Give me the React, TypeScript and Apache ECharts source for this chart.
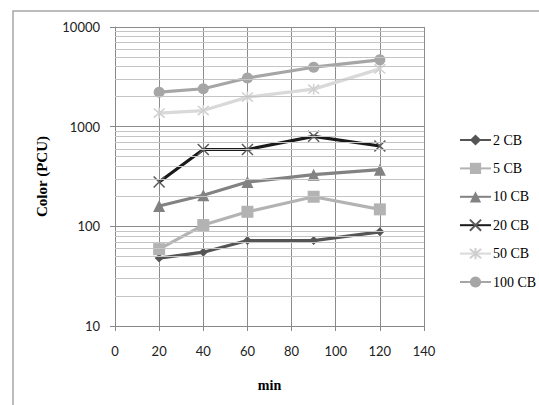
import React, { useEffect, useRef } from "react";
import * as echarts from "echarts";

const xValues = [20, 40, 60, 90, 120];
const cb2 = [48, 55, 72, 72, 88];
const cb5 = [59, 103, 140, 198, 148];
const cb10 = [160, 205, 278, 330, 370];
const cb20 = [278, 590, 590, 800, 640];
const cb50 = [1370, 1450, 1980, 2380, 3800];
const cb100 = [2220, 2400, 3080, 3950, 4680];
const seriesNames = ["2 CB", "5 CB", "10 CB", "20 CB", "50 CB", "100 CB"];
const minorGridValues = [
  20, 30, 40, 50, 60, 70, 80, 90,
  200, 300, 400, 500, 600, 700, 800, 900,
  2000, 3000, 4000, 5000, 6000, 7000, 8000, 9000,
];

const CROSS = "path://M0,0L10,10M10,0L0,10";
const STAR = "path://M0,0L10,10M10,0L0,10M5,-1L5,11";

const pairs = (ys: number[]) => xValues.map((x, i) => [x, ys[i]]);

export default function App() {
  const ref = useRef<HTMLDivElement>(null);

  useEffect(() => {
    if (!ref.current) return;
    const chart = echarts.init(ref.current, null, { renderer: "svg" });
    const serif = "'Liberation Serif', 'Times New Roman', serif";
    const sans = "Lato, 'Open Sans', sans-serif";

    const lineSeries = (
      name: string,
      ys: number[],
      color: string,
      symbol: string,
      symbolSize: number,
      markerColor?: string,
      stroked?: boolean
    ) => ({
      name,
      type: "line",
      data: pairs(ys),
      symbol,
      symbolSize,
      z: 3,
      lineStyle: { color, width: 3.2 },
      itemStyle: stroked
        ? { color: markerColor || color, borderColor: markerColor || color, borderWidth: 1.5 }
        : { color: markerColor || color, borderWidth: 0 },
    });

    chart.setOption({
      animation: false,
      backgroundColor: "#ffffff",
      grid: { left: 115, right: 115, top: 27, bottom: 79 },
      graphic: [
        {
          type: "polyline",
          shape: { points: [[13, 405], [13, 11], [539, 11]] },
          style: { stroke: "#a6a6a6", lineWidth: 1.5, fill: "none" },
          silent: true,
        },
      ],
      legend: {
        orient: "vertical",
        left: 459,
        top: 133,
        itemWidth: 31,
        itemHeight: 14,
        itemGap: 14.4,
        padding: 0,
        data: seriesNames,
        textStyle: { fontFamily: serif, fontSize: 14, color: "#000", padding: [0, 0, 0, -3] },
      },
      xAxis: {
        type: "value",
        min: 0,
        max: 140,
        interval: 20,
        name: "min",
        nameLocation: "middle",
        nameGap: 52,
        nameTextStyle: { fontFamily: serif, fontSize: 14, fontWeight: "bold", color: "#000" },
        axisLine: { show: true, lineStyle: { color: "#888", width: 1 } },
        axisTick: { show: true, length: 5, lineStyle: { color: "#888" } },
        axisLabel: { margin: 18, fontFamily: sans, fontSize: 13, color: "#222" },
        splitLine: { show: true, lineStyle: { color: "#8c8c8c", width: 1 } },
      },
      yAxis: {
        type: "log",
        logBase: 10,
        min: 10,
        max: 10000,
        name: "Color (PCU)",
        nameLocation: "middle",
        nameGap: 66,
        nameRotate: 90,
        nameTextStyle: { fontFamily: serif, fontSize: 15, fontWeight: "bold", color: "#000" },
        axisLine: { show: true, lineStyle: { color: "#888", width: 1 } },
        axisTick: { show: true, length: 5, lineStyle: { color: "#888" } },
        axisLabel: {
          margin: 15,
          fontFamily: sans,
          fontSize: 13,
          color: "#222",
          formatter: (v: number) => String(Math.round(v)),
        },
        splitLine: { show: true, lineStyle: { color: "#8c8c8c", width: 1 } },
      },
      series: [
        {
          name: "minor-grid",
          type: "line",
          data: [],
          z: 1,
          silent: true,
          markLine: {
            silent: true,
            symbol: ["none", "none"],
            label: { show: false },
            lineStyle: { color: "#c4c4c4", width: 1, type: "solid" },
            data: minorGridValues.map((v) => ({ yAxis: v })),
          },
        },
        lineSeries("2 CB", cb2, "#555555", "diamond", 9),
        lineSeries("5 CB", cb5, "#b3b3b3", "rect", 12),
        lineSeries("10 CB", cb10, "#828282", "triangle", 12),
        lineSeries("20 CB", cb20, "#1a1a1a", CROSS, 11, "#5a5a5a", true),
        lineSeries("50 CB", cb50, "#d9d9d9", STAR, 11, "#cfcfcf", true),
        lineSeries("100 CB", cb100, "#a6a6a6", "circle", 11),
      ],
    });

    return () => chart.dispose();
  }, []);

  return (
    <div
      ref={ref}
      style={{ position: "absolute", left: 0, top: 0, width: 539, height: 405 }}
    />
  );
}
